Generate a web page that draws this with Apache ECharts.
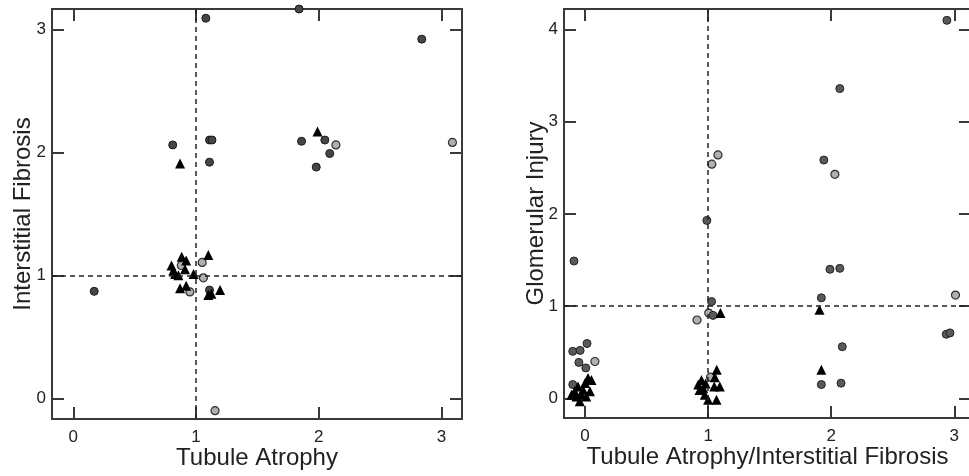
<!DOCTYPE html>
<html>
<head>
<meta charset="utf-8">
<script src="https://cdn.jsdelivr.net/npm/echarts@6/dist/echarts.min.js"></script>
<style>
  html, body { margin: 0; padding: 0; background: #fff; }
  #chart { width: 969px; height: 476px; }
</style>
</head>
<body>
<div id="chart"></div>
<script>
  // tick labels
  const tickValuesX = [0, 1, 2, 3];
  const tickValuesLeftY = [0, 1, 2, 3];
  const tickValuesRightY = [0, 1, 2, 3, 4];

  // left panel: Tubule Atrophy vs Interstitial Fibrosis
  const leftDark = [
    [0.17, 0.87], [0.81, 2.06], [1.08, 3.09], [1.11, 2.10], [1.13, 2.10],
    [1.11, 1.92], [1.11, 0.88], [1.84, 3.165], [1.86, 2.09], [2.05, 2.10],
    [2.09, 1.99], [1.98, 1.88], [2.84, 2.92]
  ];
  const leftLight = [
    [0.88, 1.08], [1.05, 1.105], [1.06, 0.98], [0.95, 0.865], [1.155, -0.10],
    [2.14, 2.06], [3.09, 2.08]
  ];
  const leftTri = [
    [0.87, 1.91], [1.99, 2.17], [0.80, 1.08], [0.815, 1.04], [0.83, 1.01],
    [0.856, 1.00], [0.883, 1.15], [0.92, 1.12], [0.91, 1.05], [0.98, 1.01],
    [1.10, 1.165], [0.87, 0.894], [0.92, 0.915], [1.10, 0.84], [1.125, 0.85],
    [1.196, 0.88]
  ];

  // right panel: Tubule Atrophy/Interstitial Fibrosis vs Glomerular Injury
  const rightDark = [
    [-0.09, 1.49], [-0.10, 0.51], [-0.04, 0.52], [0.016, 0.595], [-0.05, 0.39],
    [0.006, 0.33], [-0.10, 0.15], [0.99, 1.93], [1.028, 1.05], [1.04, 0.90],
    [1.94, 2.585], [2.07, 3.36], [1.99, 1.40], [2.07, 1.41], [1.92, 1.09],
    [2.09, 0.56], [1.92, 0.15], [2.08, 0.165], [2.94, 4.10], [2.935, 0.695],
    [2.965, 0.71]
  ];
  const rightLight = [
    [0.08, 0.40], [0.91, 0.85], [1.005, 0.925], [1.02, 0.23], [1.03, 2.54],
    [1.08, 2.64], [2.03, 2.43], [3.01, 1.12]
  ];
  const rightTri = [
    [-0.084, 0.076], [-0.043, -0.03], [-0.057, 0.13], [-0.016, 0.094], [0.0, 0.167],
    [0.024, 0.22], [0.052, 0.20], [0.04, 0.076], [-0.11, 0.04], [0.01, 0.02],
    [-0.07, 0.02], [-0.03, 0.04],
    [1.10, 0.925], [1.07, 0.31], [1.055, 0.23], [1.095, 0.13], [1.05, 0.13],
    [0.946, 0.20], [0.92, 0.15], [0.96, 0.11], [0.973, 0.04], [1.0, -0.014],
    [1.068, -0.014], [0.93, 0.09], [0.98, 0.16],
    [1.905, 0.96], [1.92, 0.31]
  ];

  const chart = echarts.init(document.getElementById('chart'));

  const axisColor = '#3a3a3a';
  const textColor = '#222';
  const font = 'Liberation Sans, Arial, sans-serif';

  function mainAxis(grid, min, max, ticks, name, pos, nameGap) {
    return {
      type: 'value', gridIndex: grid, position: pos, min: min, max: max,
      name: name, nameLocation: 'middle', nameGap: nameGap, nameMoveOverlap: false,
      nameTextStyle: { color: textColor, fontSize: 24, fontFamily: font },
      axisLine: { show: true, onZero: false, lineStyle: { color: axisColor, width: 2 } },
      axisTick: { show: true, inside: true, length: 12, customValues: ticks,
        lineStyle: { color: axisColor, width: 2 } },
      axisLabel: { show: true, customValues: ticks, color: textColor, fontSize: 17,
        fontFamily: font, margin: pos === 'bottom' ? 10 : 6 },
      splitLine: { show: false }
    };
  }
  function mirrorAxis(grid, min, max, ticks, pos) {
    return {
      type: 'value', gridIndex: grid, position: pos, min: min, max: max,
      axisLine: { show: true, onZero: false, lineStyle: { color: axisColor, width: 2 } },
      axisTick: { show: true, inside: true, length: 12, customValues: ticks,
        lineStyle: { color: axisColor, width: 2 } },
      axisLabel: { show: false },
      splitLine: { show: false }
    };
  }

  const darkStyle = { color: '#464646', borderColor: '#1a1a1a', borderWidth: 1, opacity: 1 };
  const rightDarkStyle = { color: '#5a5a5a', borderColor: '#222', borderWidth: 1, opacity: 1 };
  const lightStyle = { color: '#b0b0b0', borderColor: '#2e2e2e', borderWidth: 1.2, opacity: 1 };
  const triStyle = { color: '#000', opacity: 1 };

  function scatter(xi, yi, data, symbol, size, style) {
    return { type: 'scatter', xAxisIndex: xi, yAxisIndex: yi, data: data,
      symbol: symbol, symbolSize: size, itemStyle: style, silent: true, z: 3 };
  }
  function refLines(xi, yi) {
    return {
      type: 'scatter', xAxisIndex: xi, yAxisIndex: yi, data: [], silent: true,
      markLine: {
        silent: true, symbol: 'none', label: { show: false },
        lineStyle: { color: '#222', width: 1.5, type: [5, 4], opacity: 1 },
        data: [{ xAxis: 1 }, { yAxis: 1 }]
      }
    };
  }

  const option = {
    animation: false,
    backgroundColor: '#fff',
    grid: [
      { left: 52, top: 9, width: 410, height: 410, containLabel: false, outerBoundsMode: 'none' },
      { left: 564, top: 9, width: 407, height: 409, containLabel: false, outerBoundsMode: 'none' }
    ],
    xAxis: [
      mainAxis(0, -0.174, 3.168, tickValuesX, 'Tubule Atrophy', 'bottom', 27),
      mirrorAxis(0, -0.174, 3.168, tickValuesX, 'top'),
      mainAxis(1, -0.171, 3.136, tickValuesX, 'Tubule Atrophy/Interstitial Fibrosis', 'bottom', 27),
      mirrorAxis(1, -0.171, 3.136, tickValuesX, 'top')
    ],
    yAxis: [
      mainAxis(0, -0.168, 3.165, tickValuesLeftY, 'Interstitial Fibrosis', 'left', 17),
      mirrorAxis(0, -0.168, 3.165, tickValuesLeftY, 'right'),
      mainAxis(1, -0.213, 4.223, tickValuesRightY, 'Glomerular Injury', 'left', 16),
      mirrorAxis(1, -0.213, 4.223, tickValuesRightY, 'right')
    ],
    series: [
      refLines(0, 0),
      scatter(0, 0, leftLight, 'circle', 8, lightStyle),
      scatter(0, 0, leftDark, 'circle', 8, darkStyle),
      scatter(0, 0, leftTri, 'triangle', 10, triStyle),
      refLines(2, 2),
      scatter(2, 2, rightLight, 'circle', 8, lightStyle),
      scatter(2, 2, rightDark, 'circle', 8, rightDarkStyle),
      scatter(2, 2, rightTri, 'triangle', 10, triStyle)
    ]
  };

  chart.setOption(option);
</script>
</body>
</html>
